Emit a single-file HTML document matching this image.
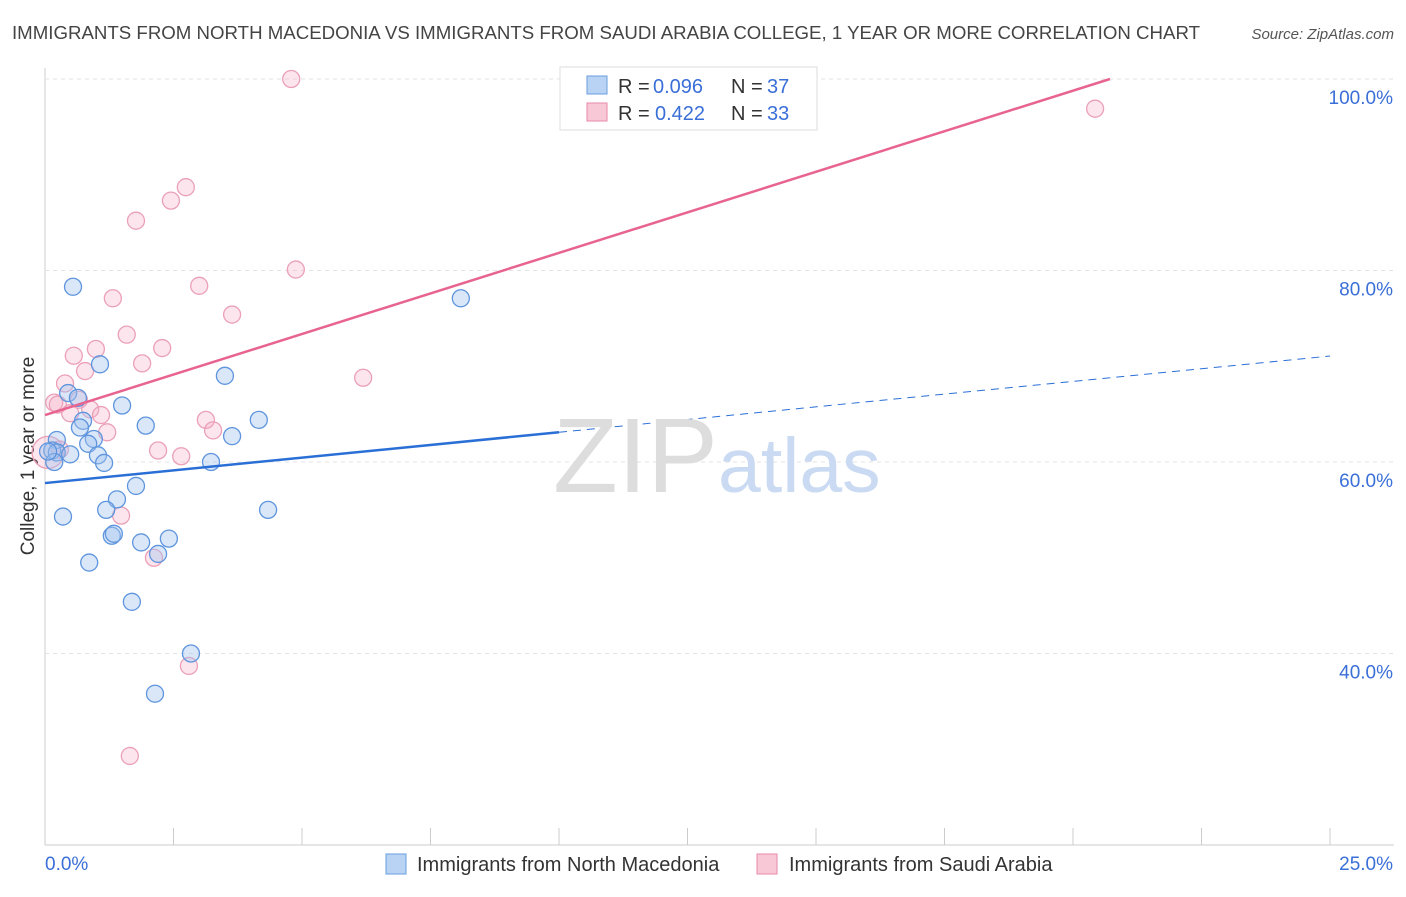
<!DOCTYPE html>
<html><head><meta charset="utf-8"><style>
body{margin:0;background:#fff;font-family:"Liberation Sans",sans-serif;}
svg text{font-family:"Liberation Sans",sans-serif;}
</style></head><body>
<svg id="chart" width="1406" height="892">
<text x="12" y="39" font-size="18" fill="#444" textLength="1188" lengthAdjust="spacingAndGlyphs">IMMIGRANTS FROM NORTH MACEDONIA VS IMMIGRANTS FROM SAUDI ARABIA COLLEGE, 1 YEAR OR MORE CORRELATION CHART</text>
<text x="1394" y="39" font-size="15" fill="#555" font-style="italic" text-anchor="end">Source: ZipAtlas.com</text>
<text x="34" y="456" font-size="19" fill="#333" transform="rotate(-90 34 456)" text-anchor="middle">College, 1 year or more</text>
<g id="grid"></g><g id="marks"></g>
<text x="553" y="492" font-size="106" fill="#ddd" font-family="Liberation Serif">ZIP</text>
<text x="718" y="492" font-size="77" fill="#c9daf2">atlas</text>
<g>
<rect x="560" y="67" width="257" height="63" fill="#fff" stroke="#ddd"/>
<rect x="587" y="76" width="20" height="18" fill="#b9d3f5" stroke="#6a9de0"/>
<text x="618" y="93" font-size="20" fill="#333">R = </text><text x="653" y="93" font-size="20" fill="#3a6fd8">0.096</text>
<text x="731" y="93" font-size="20" fill="#333">N = </text><text x="767" y="93" font-size="20" fill="#3a6fd8">37</text>
<rect x="587" y="103" width="20" height="18" fill="#f8c8d6" stroke="#e88aa8"/>
<text x="618" y="120" font-size="20" fill="#333">R = </text><text x="655" y="120" font-size="20" fill="#3a6fd8">0.422</text>
<text x="731" y="120" font-size="20" fill="#333">N = </text><text x="767" y="120" font-size="20" fill="#3a6fd8">33</text>
</g>
<g>
<rect x="386" y="854" width="20" height="20" fill="#b9d3f5" stroke="#6a9de0"/>
<text x="417" y="871" font-size="20" fill="#333">Immigrants from North Macedonia</text>
<rect x="757" y="854" width="20" height="20" fill="#f8c8d6" stroke="#e88aa8"/>
<text x="789" y="871" font-size="20" fill="#333">Immigrants from Saudi Arabia</text>
</g>
</svg>
<script>
const yTicks=[40,60,80,100];
const xTickLabels=["0.0%","25.0%"];
const blueX=[0.545,1.07,8.09,3.5,1.5,0.45,0.64,0.74,0.68,1.96,4.16,3.64,0.95,0.84,0.23,0.14,0.23,0.49,1.03,1.15,0.18,3.23,1.77,1.4,1.19,4.34,0.35,1.3,1.34,1.87,2.41,2.2,0.86,1.69,2.84,2.14,0.06];
const blueY=[78.3,70.2,77.1,69.0,65.9,67.2,66.7,64.3,63.6,63.8,64.4,62.7,62.4,61.9,62.3,61.2,61.0,60.8,60.7,59.9,60.0,60.0,57.5,56.1,55.0,55.0,54.3,52.3,52.5,51.6,52.0,50.4,49.5,45.4,40.0,35.8,61.1];
const pinkX=[4.79,20.43,2.74,2.45,1.77,4.88,3.0,1.32,3.64,1.59,0.99,2.28,0.56,1.89,0.78,6.19,0.39,0.18,0.66,0.25,0.88,0.49,1.09,3.13,1.21,3.27,0.29,2.2,2.65,1.48,2.12,2.8,1.65,0.06];
const pinkY=[100,96.9,88.7,87.3,85.2,80.1,78.4,77.1,75.4,73.3,71.8,71.9,71.1,70.3,69.5,68.8,68.2,66.2,66.5,66.0,65.5,65.1,64.9,64.4,63.1,63.3,61.3,61.2,60.6,54.4,50.0,38.7,29.3,61.0];
const blueLine=[57.8,71.07], pinkLine=[64.9,100,20.72];
const X=v=>45+v/25*1285, Y=v=>79+(100-v)/20*191.5;
const NS="http://www.w3.org/2000/svg";
function mk(t,a,p){const e=document.createElementNS(NS,t);for(const k in a)e.setAttribute(k,a[k]);p.appendChild(e);return e;}
const grid=document.getElementById('grid'),marks=document.getElementById('marks');
mk('line',{x1:45,y1:68,x2:45,y2:845,stroke:'#ccc'},grid);
mk('line',{x1:45,y1:845,x2:1394,y2:845,stroke:'#ccc'},grid);
for(let i=1;i<=10;i++){const l=mk('line',{x1:X(i*2.5),y1:828,x2:X(i*2.5),y2:845,stroke:'#ccc'},grid);

}
yTicks.forEach(t=>{const l=mk('line',{x1:45,y1:Y(t),x2:1394,y2:Y(t),stroke:'#e3e3e3','stroke-dasharray':'4,4'},grid);


const tx=mk('text',{x:1393,y:Y(t)+25,'font-size':19,fill:'#3a6fd8','text-anchor':'end'},grid);tx.textContent=t.toFixed(1)+'%';

});
const xl0=mk('text',{x:45,y:870,'font-size':19,fill:'#3a6fd8'},grid);xl0.textContent=xTickLabels[0];


const xl1=mk('text',{x:1393,y:870,'font-size':19,fill:'#3a6fd8','text-anchor':'end'},grid);xl1.textContent=xTickLabels[1];


pinkX.forEach((x,i)=>{const c=mk('circle',{cx:X(x),cy:Y(pinkY[i]),r:i==pinkX.length-1?16:8.5,fill:'rgba(244,170,195,0.3)',stroke:'#eba0b8','stroke-width':1.3},marks);

});
blueX.forEach((x,i)=>{const c=mk('circle',{cx:X(x),cy:Y(blueY[i]),r:8.5,fill:'rgba(160,195,240,0.4)',stroke:'#5f95dd','stroke-width':1.3},marks);

});
const bAt=x=>blueLine[0]+(blueLine[1]-blueLine[0])*x/25;
const b1=mk('line',{x1:X(0),y1:Y(bAt(0)),x2:X(10),y2:Y(bAt(10)),stroke:'#2a6fd6','stroke-width':2.5},marks);


const b2=mk('line',{x1:X(10),y1:Y(bAt(10)),x2:X(25),y2:Y(bAt(25)),stroke:'#2a6fd6','stroke-width':1,'stroke-dasharray':'8,6'},marks);


const p1=mk('line',{x1:X(0),y1:Y(pinkLine[0]),x2:X(pinkLine[2]),y2:Y(pinkLine[1]),stroke:'#e86490','stroke-width':2.5},marks);


</script>
</body></html>
